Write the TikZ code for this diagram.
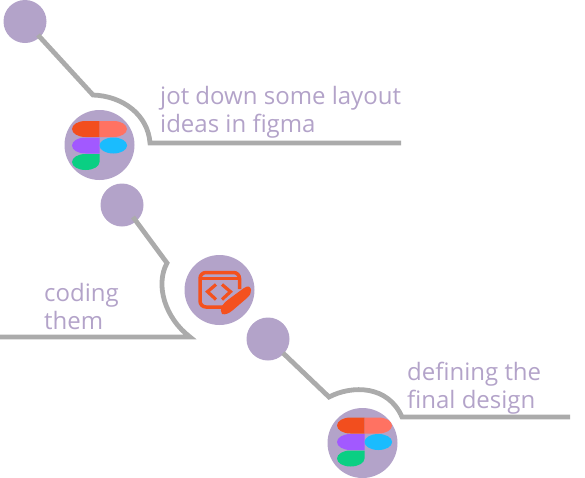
\documentclass[tikz,border=0pt]{standalone}
\usepackage{fontspec}
\setmainfont{Open Sans}
\definecolor{lilac}{HTML}{B3A3C9}
\definecolor{wire}{HTML}{ABABAB}
\definecolor{figred}{HTML}{F24E1E}
\definecolor{figcoral}{HTML}{FF7262}
\definecolor{figpurple}{HTML}{A259FF}
\definecolor{figblue}{HTML}{1ABCFE}
\definecolor{figgreen}{HTML}{0ACF83}
\definecolor{codeorange}{HTML}{F4511E}
\tikzset{
  dot/.style={circle,fill=lilac,draw=none,inner sep=0pt,minimum size=43pt},
  badge/.style={circle,fill=lilac,draw=none,inner sep=0pt,minimum size=70pt},
  wireline/.style={draw=wire,line width=4.8pt,line join=miter},
  caption/.style={text=lilac,font=\fontsize{24pt}{28pt}\selectfont,anchor=base west,inner sep=0pt,align=left},
  figma/.pic={
    \fill[figred] (0,-24) -- (-14,-24) .. controls (-21.5,-24) and (-27.5,-20.4) .. (-27.5,-16) .. controls (-27.5,-11.6) and (-21.5,-8) .. (-14,-8) -- (0,-8) -- cycle;
    \fill[figcoral] (0,-24) -- (14,-24) .. controls (21.5,-24) and (27.5,-20.4) .. (27.5,-16) .. controls (27.5,-11.6) and (21.5,-8) .. (14,-8) -- (0,-8) -- cycle;
    \fill[figpurple] (0,-7.5) -- (-14,-7.5) .. controls (-21.5,-7.5) and (-27.5,-3.9) .. (-27.5,0.5) .. controls (-27.5,4.9) and (-21.5,8.5) .. (-14,8.5) -- (0,8.5) -- cycle;
    \fill[figblue] (13.8,0.5) ellipse[x radius=13.8,y radius=8];
    \fill[figgreen] (0,9) -- (-14,9) .. controls (-21.5,9) and (-27.5,12.6) .. (-27.5,17) .. controls (-27.5,21.4) and (-21.5,25) .. (-14,25) .. controls (-6,25) and (0,21.4) .. (0,17) -- cycle;
  }
}
\begin{document}
\begin{tikzpicture}[x=1pt,y=-1pt]
\useasboundingbox (0,0) rectangle (585,477);
\node[dot] (d1) at (25,21.5) {};
\node[dot] (d2) at (122,205) {};
\node[dot] (d3) at (268,339) {};
\node[badge] (b1) at (99.5,145) {};
\node[badge] (b2) at (219.5,290) {};
\node[badge] (b3) at (362.5,443) {};
\pic at (99.5,145) {figma};
\pic at (364.5,441.5) {figma};
% code icon
\draw[codeorange,line width=3.5pt,rounded corners=6pt] (223,307) -- (200,307) -- (200,272.5) -- (239.5,272.5) -- (239.5,289);
\draw[codeorange,line width=2.6pt] (200,278.5) -- (239.5,278.5);
\draw[codeorange,line width=3.2pt] (216,284.5) -- (207.5,291.7) -- (216,299.5);
\draw[codeorange,line width=3.2pt] (222,284.5) -- (230.5,291.7) -- (222,299.5);
\fill[codeorange] (222,314) .. controls (220.5,312) and (220.5,309) .. (222,306) .. controls (224,303) and (226,301) .. (229,299) -- (244,288) .. controls (248,285) and (251,287) .. (251,290) .. controls (251.5,293) and (250,295) .. (247,298) -- (233,310) .. controls (229,313.5) and (225,315) .. (222,314) -- cycle;
% connectors
\coordinate (s1) at (38,35);
\coordinate (e1) at (93,95);
\coordinate (f1) at (150,143);
\coordinate (g1) at (401,143);
\draw[wireline] (s1) -- (e1) .. controls (123,96) and (148,115) .. (f1) -- (g1);
\coordinate (s2) at (133,217);
\coordinate (e2) at (167,263);
\coordinate (f2) at (190,337);
\coordinate (g2) at (0,337);
\draw[wireline] (s2) -- (e2) .. controls (155,285) and (165,318) .. (f2) -- (g2);
\coordinate (s3) at (283,353);
\coordinate (e3) at (329,397);
\coordinate (f3) at (402,417);
\coordinate (g3) at (570,417);
\draw[wireline] (s3) -- (e3) .. controls (352,385) and (388,385) .. (f3) -- (g3);
% captions
\node[caption] (t1) at (160,132.5) {jot down some layout\\ideas in figma};
\node[caption] (t2) at (44,329) {coding\\them};
\node[caption] (t3) at (407,408) {defining the\\final design};
\end{tikzpicture}
\end{document}
